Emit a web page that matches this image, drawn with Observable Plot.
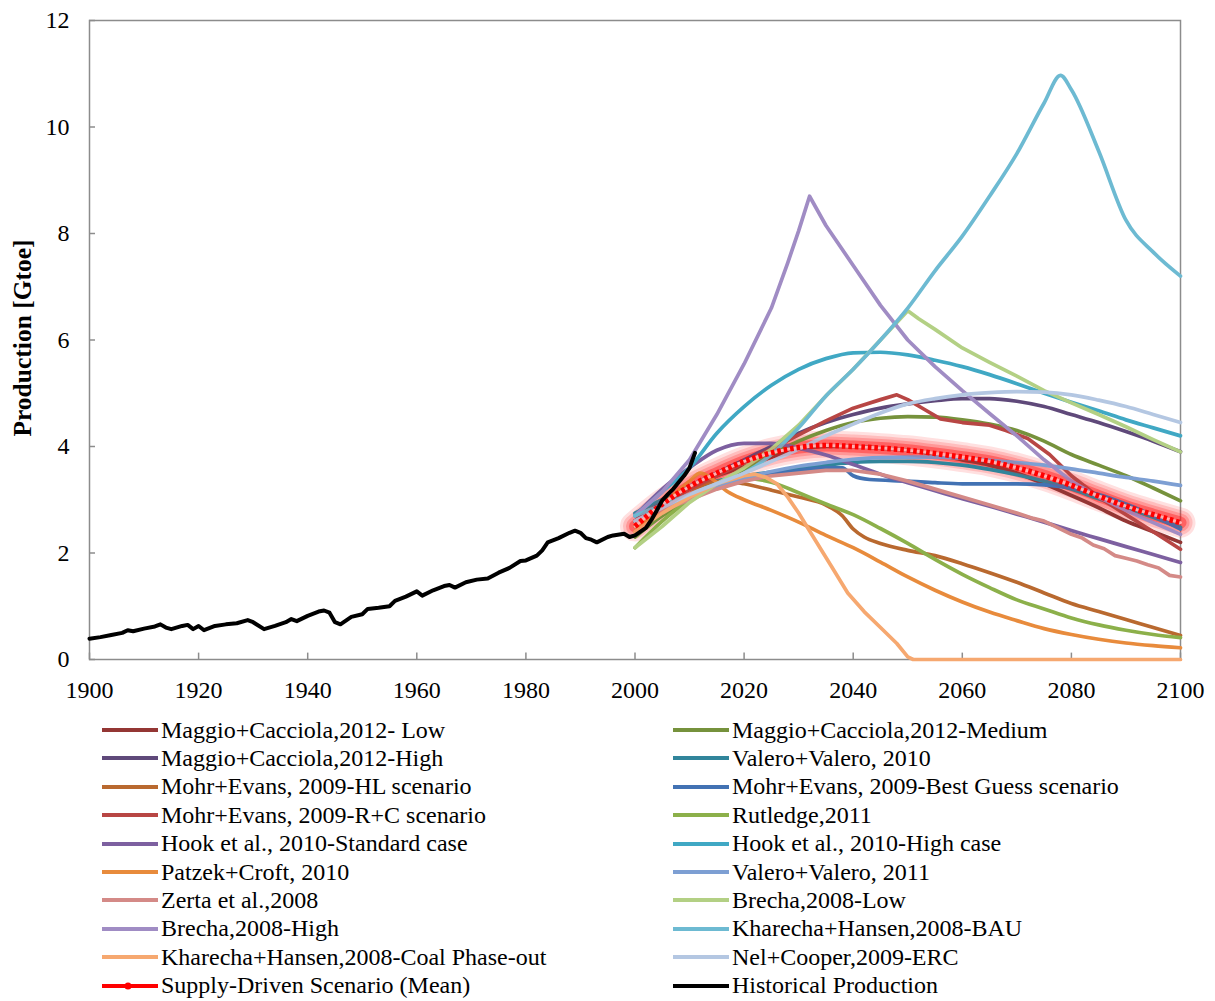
<!DOCTYPE html>
<html>
<head>
<meta charset="utf-8">
<script src="https://cdn.jsdelivr.net/npm/d3@7"></script>
<script src="https://cdn.jsdelivr.net/npm/@observablehq/plot@0.6"></script>
<style>
  html, body { margin: 0; padding: 0; background: #fff; }
  #chart { position: relative; width: 1215px; height: 1001px; font-family: "Liberation Serif", "Times New Roman", serif; }
  #legend { position: absolute; left: 0; top: 716px; width: 1215px; }
  .item { position: absolute; height: 28px; display: flex; align-items: center; font-size: 24px; color: #000; white-space: nowrap; }
  .item svg { margin-right: 3px; }
</style>
</head>
<body>
<div id="chart"><div id="legend"></div></div>
<script>
// ---------- Data ----------
const xTicks = [1900, 1920, 1940, 1960, 1980, 2000, 2020, 2040, 2060, 2080, 2100];
const yTicks = [0, 2, 4, 6, 8, 10, 12];
const yLabel = "Production [Gtoe]";

const historical = [[1900,0.39],[1902,0.42],[1904,0.46],[1906,0.50],[1907,0.55],[1908,0.53],[1910,0.58],[1912,0.62],[1913,0.66],[1914,0.60],[1915,0.57],[1917,0.63],[1918,0.65],[1919,0.57],[1920,0.63],[1921,0.55],[1923,0.63],[1925,0.66],[1927,0.68],[1929,0.74],[1930,0.70],[1932,0.57],[1934,0.63],[1936,0.70],[1937,0.76],[1938,0.72],[1940,0.82],[1942,0.90],[1943,0.92],[1944,0.88],[1945,0.70],[1946,0.66],[1948,0.80],[1950,0.85],[1951,0.95],[1953,0.97],[1955,1.00],[1956,1.10],[1958,1.18],[1960,1.28],[1961,1.20],[1963,1.30],[1965,1.38],[1966,1.40],[1967,1.35],[1969,1.45],[1971,1.50],[1973,1.52],[1975,1.63],[1977,1.72],[1979,1.85],[1980,1.86],[1982,1.95],[1983,2.05],[1984,2.20],[1986,2.28],[1988,2.38],[1989,2.42],[1990,2.38],[1991,2.28],[1992,2.25],[1993,2.20],[1995,2.30],[1996,2.33],[1998,2.36],[1999,2.30],[2000,2.33],[2001,2.40],[2002,2.47],[2003,2.62],[2004,2.80],[2005,2.99],[2006,3.10],[2007,3.20],[2008,3.33],[2009,3.45],[2010,3.60],[2011,3.88]];

const mcLow = [[2000,2.6],[2005,2.95],[2010,3.2],[2015,3.45],[2020,3.62],[2025,3.8],[2030,3.95],[2035,4.0],[2040,4.0],[2045,3.97],[2050,3.93],[2055,3.85],[2060,3.75],[2065,3.65],[2070,3.5],[2075,3.3],[2080,3.08],[2085,2.85],[2090,2.6],[2095,2.4],[2100,2.2]];
const mcMed = [[2000,2.3],[2005,2.7],[2010,3.0],[2015,3.3],[2020,3.55],[2025,3.85],[2030,4.1],[2035,4.3],[2040,4.45],[2045,4.53],[2050,4.56],[2055,4.55],[2060,4.5],[2065,4.42],[2070,4.3],[2075,4.1],[2080,3.85],[2085,3.65],[2090,3.45],[2095,3.22],[2100,2.98]];
const mcHigh = [[2000,2.6],[2005,2.95],[2010,3.25],[2015,3.5],[2020,3.75],[2025,4.0],[2030,4.25],[2035,4.45],[2040,4.6],[2045,4.72],[2050,4.8],[2055,4.86],[2060,4.9],[2065,4.9],[2070,4.85],[2075,4.75],[2080,4.6],[2085,4.45],[2090,4.28],[2095,4.1],[2100,3.9]];
const vv2010 = [[2000,2.75],[2005,3.0],[2010,3.2],[2015,3.35],[2020,3.45],[2025,3.52],[2030,3.6],[2035,3.65],[2040,3.7],[2045,3.72],[2050,3.72],[2055,3.7],[2060,3.65],[2065,3.57],[2070,3.47],[2075,3.35],[2080,3.2],[2085,3.02],[2090,2.85],[2095,2.67],[2100,2.48]];
const meHL = [[2000,2.5],[2005,2.8],[2010,3.1],[2013,3.3],[2016,3.35],[2020,3.3],[2025,3.18],[2030,3.05],[2035,2.9],[2038,2.7],[2040,2.45],[2042,2.3],[2045,2.18],[2050,2.05],[2055,1.95],[2060,1.8],[2065,1.63],[2070,1.45],[2075,1.25],[2080,1.05],[2085,0.9],[2090,0.75],[2095,0.6],[2100,0.45]];
const meBG = [[2000,2.6],[2005,2.85],[2010,3.05],[2015,3.25],[2020,3.38],[2025,3.48],[2030,3.55],[2035,3.6],[2038,3.6],[2040,3.45],[2043,3.38],[2050,3.35],[2055,3.32],[2060,3.3],[2065,3.3],[2070,3.3],[2075,3.28],[2080,3.22],[2085,3.1],[2090,2.92],[2095,2.7],[2100,2.45]];
const meRC = [[2000,2.6],[2005,2.9],[2010,3.2],[2015,3.45],[2020,3.7],[2025,3.95],[2030,4.22],[2035,4.48],[2040,4.72],[2045,4.88],[2048,4.97],[2050,4.88],[2053,4.7],[2056,4.52],[2060,4.45],[2065,4.4],[2068,4.3],[2072,4.15],[2076,3.85],[2080,3.45],[2085,3.05],[2090,2.72],[2095,2.4],[2100,2.07]];
const rutledge = [[2000,2.1],[2005,2.6],[2010,3.0],[2015,3.3],[2020,3.4],[2025,3.33],[2030,3.13],[2035,2.92],[2040,2.72],[2045,2.46],[2050,2.18],[2055,1.88],[2060,1.6],[2065,1.35],[2070,1.12],[2075,0.95],[2080,0.78],[2085,0.65],[2090,0.55],[2095,0.47],[2100,0.41]];
const hookStd = [[2000,2.7],[2005,3.2],[2010,3.6],[2015,3.93],[2020,4.06],[2025,4.06],[2030,3.97],[2035,3.84],[2040,3.66],[2045,3.48],[2050,3.32],[2055,3.17],[2060,3.02],[2065,2.88],[2070,2.73],[2075,2.58],[2080,2.42],[2085,2.27],[2090,2.12],[2095,1.97],[2100,1.82]];
const hookHigh = [[2000,2.7],[2005,3.15],[2010,3.6],[2015,4.25],[2020,4.75],[2025,5.15],[2030,5.45],[2035,5.65],[2040,5.76],[2045,5.77],[2050,5.72],[2055,5.62],[2060,5.5],[2065,5.35],[2070,5.18],[2075,5.0],[2080,4.83],[2085,4.67],[2090,4.5],[2095,4.35],[2100,4.2]];
const patzek = [[2000,2.4],[2005,2.9],[2010,3.35],[2012,3.5],[2014,3.4],[2017,3.15],[2020,3.0],[2025,2.8],[2030,2.58],[2035,2.33],[2040,2.1],[2045,1.83],[2050,1.55],[2055,1.3],[2060,1.08],[2065,0.89],[2070,0.73],[2075,0.58],[2080,0.47],[2085,0.38],[2090,0.31],[2095,0.26],[2100,0.22]];
const vv2011 = [[2000,2.6],[2005,2.85],[2010,3.05],[2015,3.25],[2020,3.4],[2025,3.53],[2030,3.63],[2035,3.7],[2040,3.76],[2045,3.79],[2050,3.8],[2055,3.8],[2060,3.78],[2065,3.74],[2070,3.7],[2075,3.65],[2080,3.58],[2085,3.5],[2090,3.42],[2095,3.35],[2100,3.27]];
const zerta = [[2000,2.6],[2005,2.8],[2010,3.0],[2015,3.2],[2020,3.35],[2025,3.45],[2030,3.5],[2035,3.55],[2040,3.55],[2045,3.48],[2050,3.35],[2055,3.2],[2060,3.05],[2065,2.9],[2070,2.75],[2073,2.65],[2075,2.6],[2077,2.5],[2080,2.35],[2082,2.28],[2084,2.15],[2086,2.08],[2088,1.95],[2090,1.9],[2092,1.85],[2094,1.78],[2096,1.72],[2098,1.58],[2100,1.55]];
const brechaLow = [[2000,2.1],[2005,2.5],[2010,2.95],[2015,3.3],[2020,3.6],[2025,3.95],[2030,4.4],[2035,4.95],[2040,5.45],[2045,6.0],[2050,6.55],[2052,6.4],[2055,6.2],[2060,5.85],[2065,5.58],[2070,5.32],[2075,5.05],[2080,4.82],[2085,4.6],[2090,4.37],[2095,4.13],[2100,3.9]];
const brechaHigh = [[2000,2.7],[2005,3.15],[2010,3.75],[2015,4.6],[2020,5.55],[2025,6.6],[2028,7.45],[2030,8.05],[2032,8.7],[2035,8.15],[2040,7.4],[2045,6.65],[2050,6.0],[2055,5.5],[2060,5.05],[2065,4.62],[2070,4.2],[2075,3.75],[2080,3.35],[2085,3.05],[2090,2.8],[2095,2.57],[2100,2.35]];
const kharBAU = [[2000,2.7],[2005,2.9],[2010,3.1],[2015,3.3],[2020,3.5],[2025,3.85],[2030,4.35],[2035,4.95],[2040,5.45],[2045,6.0],[2050,6.6],[2055,7.3],[2060,7.95],[2065,8.7],[2070,9.5],[2075,10.45],[2078,10.97],[2080,10.7],[2085,9.55],[2090,8.25],[2095,7.65],[2100,7.2]];
const kharCoal = [[2000,2.4],[2005,2.75],[2010,3.05],[2015,3.3],[2020,3.45],[2022,3.48],[2024,3.42],[2026,3.3],[2028,3.05],[2030,2.75],[2033,2.25],[2036,1.75],[2039,1.25],[2042,0.9],[2045,0.6],[2048,0.3],[2050,0.05],[2051,0],[2100,0]];
const nelCooper = [[2000,2.6],[2005,2.85],[2010,3.1],[2015,3.3],[2020,3.5],[2025,3.72],[2030,3.95],[2035,4.2],[2040,4.42],[2045,4.63],[2050,4.8],[2055,4.9],[2060,4.97],[2065,5.01],[2070,5.03],[2075,5.02],[2080,4.97],[2085,4.87],[2090,4.75],[2095,4.6],[2100,4.45]];
const supplyMean = [[2000,2.5],[2005,2.92],[2010,3.25],[2015,3.5],[2020,3.72],[2025,3.88],[2030,3.98],[2035,4.02],[2040,4.0],[2045,3.97],[2050,3.93],[2055,3.87],[2060,3.8],[2065,3.72],[2070,3.6],[2075,3.45],[2080,3.27],[2085,3.07],[2090,2.88],[2095,2.72],[2100,2.57]];

// series in drawing / legend order
const seriesNames = ["Maggio+Cacciola,2012- Low","Maggio+Cacciola,2012-Medium","Maggio+Cacciola,2012-High","Valero+Valero, 2010","Mohr+Evans, 2009-HL scenario","Mohr+Evans, 2009-Best Guess scenario","Mohr+Evans, 2009-R+C scenario","Rutledge,2011","Hook et al., 2010-Standard case","Hook et al., 2010-High case","Patzek+Croft, 2010","Valero+Valero, 2011","Zerta et al.,2008","Brecha,2008-Low","Brecha,2008-High","Kharecha+Hansen,2008-BAU","Kharecha+Hansen,2008-Coal Phase-out","Nel+Cooper,2009-ERC","Supply-Driven Scenario (Mean)","Historical Production"];
const seriesData = [mcLow, mcMed, mcHigh, vv2010, meHL, meBG, meRC, rutledge, hookStd, hookHigh, patzek, vv2011, zerta, brechaLow, brechaHigh, kharBAU, kharCoal, nelCooper, supplyMean, historical];
const seriesColors = ["#943634","#76923C","#5F497A","#31859B","#B9692F","#4272B3","#B84644","#8CB04A","#7D60A0","#40A8C4","#E88B3C","#7D9FD3","#D48A87","#B3D084","#A08CC4","#6DBAD2","#F6A870","#B4C7E2","#FF0000","#000000"];
const sharpSeries = new Set([6, 12, 13, 14, 16]);

// ---------- Chart ----------
const fontFamily = "'Liberation Serif', 'Times New Roman', serif";
const X = d => d[0], Y = d => d[1];
const marks = [
  Plot.frame({stroke: "#8c8c8c", strokeWidth: 1.5}),
  Plot.ruleX(xTicks, {y1: 0, y2: 0.12, stroke: "#8c8c8c", strokeWidth: 1.5}),
  Plot.ruleY(yTicks, {x1: 1900, x2: 1901.1, stroke: "#8c8c8c", strokeWidth: 1.5}),
  Plot.axisX({ticks: xTicks, tickSize: 0, tickPadding: 21, tickFormat: d => String(d), label: null, fontSize: 24}),
  Plot.axisY({ticks: yTicks, tickSize: 0, tickPadding: 20, label: null, fontSize: 24}),
  Plot.text([yLabel], {frameAnchor: "left", dx: -67, dy: -2, rotate: -90, textAnchor: "middle", fontWeight: "bold", fontSize: 25.5})
];
// supply-driven mean glow (soft, behind the scenario lines)
[[30, 0.13], [24, 0.17], [18, 0.22], [12, 0.3]].forEach(([w, o]) => {
  marks.push(Plot.line(supplyMean, {x: X, y: Y, stroke: "#ff1010", strokeWidth: w, strokeOpacity: o, curve: "monotone-x", strokeLinecap: "round"}));
});
for (let i = 0; i < 18; i++) {
  marks.push(Plot.line(seriesData[i], {
    x: X, y: Y, stroke: seriesColors[i], strokeWidth: 3.7,
    curve: sharpSeries.has(i) ? "linear" : "monotone-x"
  }));
}
// light glow veil on top so lines beneath take a reddish tint
marks.push(Plot.line(supplyMean, {x: X, y: Y, stroke: "#ff1010", strokeWidth: 12, strokeOpacity: 0.12, curve: "monotone-x", strokeLinecap: "round"}));
marks.push(Plot.line(supplyMean, {x: X, y: Y, stroke: "#ffb0b0", strokeWidth: 3, curve: "monotone-x"}));
marks.push(Plot.line(supplyMean, {x: X, y: Y, stroke: "#ff0000", strokeWidth: 5.5, strokeDasharray: "3.6 2.9", strokeLinecap: "butt", curve: "monotone-x"}));
// historical
marks.push(Plot.line(historical, {x: X, y: Y, stroke: "#000", strokeWidth: 4, curve: "linear"}));

const svg = Plot.plot({
  width: 1215, height: 705,
  marginLeft: 89, marginRight: 35, marginTop: 20, marginBottom: 46,
  x: {domain: [1900, 2100]},
  y: {domain: [0, 12]},
  style: {fontFamily, fontSize: "24px", color: "#000", background: "#fff", overflow: "visible"},
  marks
});
svg.querySelectorAll("text").forEach(t => t.setAttribute("fill", "#000"));

const chart = document.getElementById("chart");
chart.insertBefore(svg, chart.firstChild);

// ---------- Legend ----------
const legend = document.getElementById("legend");
const rowH = 28.4;
seriesNames.forEach((name, i) => {
  const row = Math.floor(i / 2), col = i % 2;
  const item = document.createElement("div");
  item.className = "item";
  item.style.left = (col === 0 ? 102 : 673) + "px";
  item.style.top = (row * rowH) + "px";
  const c = seriesColors[i];
  let sw = `<svg width="56" height="10"><line x1="0" y1="5" x2="56" y2="5" stroke="${c}" stroke-width="4"/>`;
  if (i === 18) sw += `<circle cx="26" cy="5" r="3.5" fill="${c}"/>`;
  sw += `</svg>`;
  item.innerHTML = sw + `<span>${name}</span>`;
  legend.appendChild(item);
});
</script>
</body>
</html>
